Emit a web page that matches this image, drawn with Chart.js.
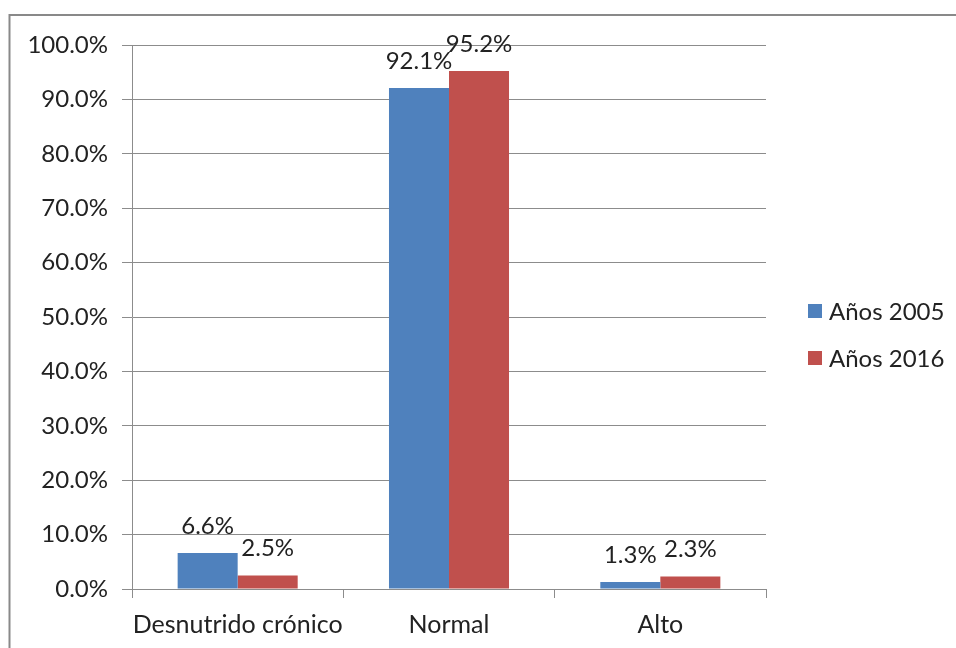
<!DOCTYPE html>
<html>
<head>
<meta charset="utf-8">
<script src="https://cdn.jsdelivr.net/npm/chart.js@4/dist/chart.umd.min.js"></script>
<style>
  html, body { margin: 0; padding: 0; background: #ffffff; }
  #wrap { width: 956px; height: 648px; position: relative; }
</style>
</head>
<body>
<div id="wrap"><canvas id="c" width="956" height="648"></canvas></div>
<script>
// Categories and series values (percent)
const categories = ['Desnutrido crónico', 'Normal', 'Alto'];
const seriesNames = ['Años 2005', 'Años 2016'];
const values2005 = [6.6, 92.1, 1.3];
const values2016 = [2.5, 95.2, 2.3];
const yTickValues = [0, 10, 20, 30, 40, 50, 60, 70, 80, 90, 100];

const seriesColors = ['#4F81BD', '#C0504D'];
const FONT = 'Lato, "Liberation Sans", Arial, sans-serif';
const FONT_SIZE = 24;
const X_FONT_SIZE = 25;
const TEXT_COLOR = '#222222';
const GRID_COLOR = '#8c8c8c';

const fmt = v => v.toFixed(1) + '%';

// Outer frame of the chart object
const framePlugin = {
  id: 'frame',
  beforeDraw(chart) {
    const ctx = chart.ctx;
    ctx.save();
    ctx.fillStyle = '#ffffff';
    ctx.fillRect(0, 0, chart.width, chart.height);
    ctx.strokeStyle = '#898989';
    ctx.lineWidth = 2;
    ctx.beginPath();
    ctx.moveTo(9.5, chart.height + 2);
    ctx.lineTo(9.5, 15);
    ctx.lineTo(chart.width + 2, 15);
    ctx.stroke();
    ctx.restore();
  }
};

// Value labels above each bar
const valueLabelPlugin = {
  id: 'valueLabels',
  afterDatasetsDraw(chart) {
    const ctx = chart.ctx;
    ctx.save();
    ctx.font = FONT_SIZE + 'px ' + FONT;
    ctx.fillStyle = TEXT_COLOR;
    ctx.textAlign = 'center';
    ctx.textBaseline = 'middle';
    chart.data.datasets.forEach((ds, i) => {
      const meta = chart.getDatasetMeta(i);
      meta.data.forEach((bar, j) => {
        ctx.fillText(fmt(ds.data[j]), bar.x, bar.y - 27);
      });
    });
    ctx.restore();
  }
};

// Legend at the right, square markers
const sideLegendPlugin = {
  id: 'sideLegend',
  afterDraw(chart) {
    const ctx = chart.ctx;
    const area = chart.chartArea;
    const x0 = area.right + 42;
    const yMid = (area.top + area.bottom) / 2 + 17.5;
    const rowH = 47;
    const n = chart.data.datasets.length;
    ctx.save();
    ctx.font = FONT_SIZE + 'px ' + FONT;
    ctx.textAlign = 'left';
    ctx.textBaseline = 'middle';
    chart.data.datasets.forEach((ds, i) => {
      const cy = yMid + (i - (n - 1) / 2) * rowH;
      ctx.fillStyle = ds.backgroundColor;
      ctx.fillRect(x0, cy - 7, 14, 14);
      ctx.fillStyle = TEXT_COLOR;
      ctx.fillText(ds.label, x0 + 21, cy + 1);
    });
    ctx.restore();
  }
};

new Chart(document.getElementById('c'), {
  type: 'bar',
  data: {
    labels: categories,
    datasets: [
      { label: seriesNames[0], data: values2005, backgroundColor: seriesColors[0] },
      { label: seriesNames[1], data: values2016, backgroundColor: seriesColors[1] }
    ]
  },
  plugins: [framePlugin, valueLabelPlugin, sideLegendPlugin],
  options: {
    responsive: false,
    animation: false,
    devicePixelRatio: 1,
    categoryPercentage: 0.568,
    barPercentage: 1.0,
    layout: { padding: { left: 0, right: 190, top: 45, bottom: 0 } },
    plugins: {
      legend: { display: false },
      tooltip: { enabled: false }
    },
    scales: {
      x: {
        grid: {
          drawOnChartArea: false,
          drawTicks: true,
          tickLength: 9,
          color: GRID_COLOR,
          offset: true
        },
        border: { color: GRID_COLOR, width: 1 },
        ticks: {
          font: { family: FONT, size: X_FONT_SIZE },
          color: TEXT_COLOR,
          padding: 12,
          maxRotation: 0,
          autoSkip: false
        },
        afterFit(scale) { scale.height = 59; }
      },
      y: {
        min: 0,
        max: 100,
        afterBuildTicks(scale) {
          scale.ticks = yTickValues.map(v => ({ value: v }));
        },
        grid: {
          color: GRID_COLOR,
          lineWidth: 1,
          tickLength: 10,
          drawTicks: true
        },
        border: { color: GRID_COLOR, width: 1 },
        ticks: {
          font: { family: FONT, size: FONT_SIZE },
          color: TEXT_COLOR,
          padding: 14,
          callback: v => fmt(v)
        },
        afterFit(scale) { scale.width = 132; }
      }
    }
  }
});
</script>
</body>
</html>
